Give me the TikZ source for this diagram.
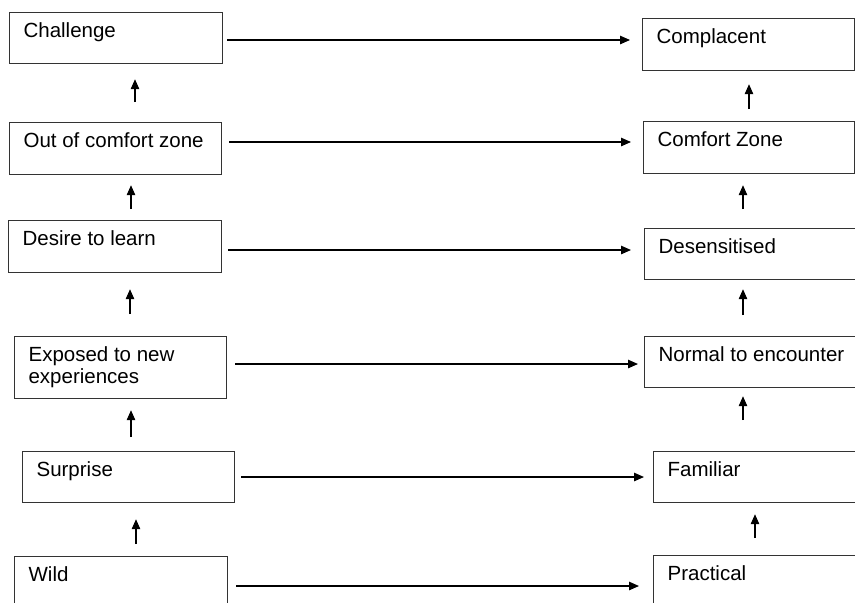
\documentclass[tikz,border=0pt]{standalone}
\usepackage{fontspec}
\setmainfont{Liberation Sans}
\usetikzlibrary{arrows.meta}

\begin{document}
\begin{tikzpicture}[x = 1pt, y = -1pt,
	box/.style = {draw = black!80, line width = 1.2pt, anchor = north west, inner xsep = 14pt, inner ysep = 10.5pt, font = \fontsize{20.5pt}{22pt}\selectfont},
	flow/.style = {-{Triangle[length = 10pt, width = 8.5pt]}, line width = 1.2pt}]
	\clip (0, 0) rectangle (855, 603);
	% boxes: name/x/y/width/height/text
	\foreach \n/\x/\y/\w/\h/\txt in {l1/9/12/213/51/Challenge, l2/9/122/212/52/Out of comfort zone, l3/8/220/213/52/Desire to learn, l4/14/336/212/62/{Exposed to new\\experiences}, l5/22/451/212/51/Surprise, l6/14/556/213/60/Wild, r1/642/18/212/52/Complacent, r2/643/121/211/52/Comfort Zone, r3/644/228/230/51/Desensitised, r4/644/336/230/51/Normal to encounter, r5/653/451/230/51/Familiar, r6/653/555/230/60/Practical}{
		\node [box] (\n) at (\x, \y) {\begin{minipage}[c][\dimexpr\h pt-21pt\relax][t]{\dimexpr\w pt-28pt\relax}\txt\end{minipage}};
	};
	% across
	\foreach \r/\y/\ga/\gb in {1/40/4/12, 2/142/7/12, 3/250/6/13, 4/364/8/6, 5/477/6/9, 6/586/8/14}{
		\draw [flow, shorten <= \ga pt, shorten >= \gb pt] (l\r.east |- 0, \y) -- (r\r.west |- 0, \y);
	};
	% up
	\foreach \lo/\hi/\x/\ga/\gb in {l2/l1/135/20/15, l3/l2/131/11/10, l4/l3/130/22/16, l5/l4/131/14/11, l6/l5/136/12/16, r2/r1/749/12/13, r3/r2/743/19/11, r4/r3/743/21/9, r5/r4/743/31/8, r6/r5/755/17/11}{
		\draw [flow, shorten <= \ga pt, shorten >= \gb pt] (\lo.north -| \x, 0) -- (\hi.south -| \x, 0);
	};
\end{tikzpicture}
\end{document}
